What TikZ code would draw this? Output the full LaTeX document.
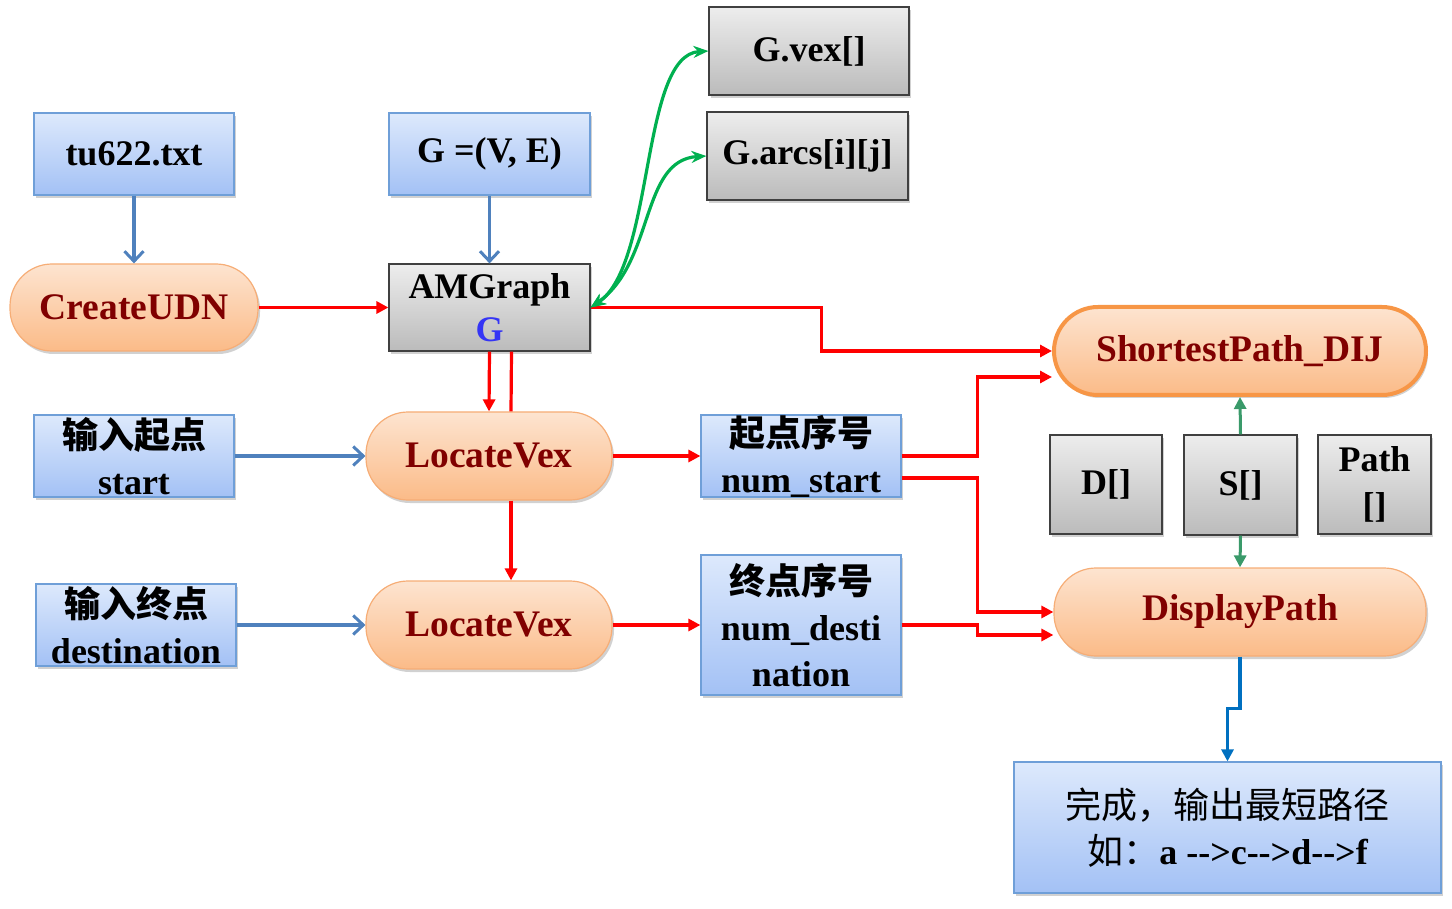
\documentclass[tikz,border=0pt]{standalone}
\usepackage{fontspec}
\setmainfont{Liberation Serif}
\newfontfamily\cjk{Noto Sans CJK SC}
\usetikzlibrary{arrows.meta,shadows,calc}
\definecolor{bluebd}{HTML}{6F9FD8}
\definecolor{bluetop}{HTML}{DDE9FC}
\definecolor{bluebot}{HTML}{A3C1F5}
\definecolor{graytop}{HTML}{EDEDED}
\definecolor{graybot}{HTML}{BBBBBB}
\definecolor{orbd}{HTML}{F6AD76}
\definecolor{ortop}{HTML}{FDE4D0}
\definecolor{orbot}{HTML}{FBBB88}
\definecolor{orthick}{HTML}{F79646}
\definecolor{darkred}{HTML}{800000}
\definecolor{gblue}{HTML}{3535F5}
\definecolor{lineblue}{HTML}{4F81BD}
\definecolor{linered}{HTML}{FF0000}
\definecolor{linegreen}{HTML}{00B050}
\definecolor{sgreen}{HTML}{3A9A6A}
\definecolor{finblue}{HTML}{0070C0}
\begin{document}
\begin{tikzpicture}[x=1pt,y=-1pt,
  every node/.style={font=\fontsize{36}{46}\selectfont\bfseries, align=center, inner sep=0pt},
  shad/.style={drop shadow={shadow xshift=2pt, shadow yshift=-3pt, opacity=0.3, fill=black!60}},
  bluebox/.style={shad, draw=bluebd, line width=1.2pt, top color=bluetop, bottom color=bluebot},
  graybox/.style={shad, draw=black!75, line width=1.2pt, top color=graytop, bottom color=graybot},
  orbox/.style={shad, draw=orbd, line width=1.2pt, top color=ortop, bottom color=orbot, rounded corners=42pt, text=darkred, font=\fontsize{37.5}{46}\selectfont\bfseries},
  blueline/.style={draw=lineblue, line width=3.2pt, -{Straight Barb[length=10pt,width=19pt,line width=3pt]}},
  redline/.style={draw=linered, line width=3.2pt, -{Triangle[length=12pt,width=12pt]}},
  greenline/.style={draw=linegreen, line width=3.2pt, {Stealth[length=15pt,width=12pt]}-{Stealth[length=15pt,width=12pt]}},
  sline/.style={draw=sgreen, line width=3pt, -{Triangle[length=12pt,width=12pt]}},
  finline/.style={draw=finblue, line width=3.4pt, -{Triangle[length=12pt,width=12pt]}}
]
\useasboundingbox (0,0) rectangle (1452,909);

% nodes
\node[bluebox, minimum width=200pt, minimum height=82pt] (tu) at (134,154) {tu622.txt};
\node[bluebox, minimum width=201pt, minimum height=82pt] (gve) at (489.5,154) {G =(V, E)};
\node[orbox, minimum width=248pt, minimum height=87pt] (cu) at (134,307.5) {CreateUDN};
\node[graybox, minimum width=201pt, minimum height=87pt] (am) at (489.5,307.5) {AMGraph\\[-3pt]\textcolor{gblue}{G}};
\node[graybox, minimum width=200pt, minimum height=88pt] (vex) at (809,51) {G.vex[]};
\node[graybox, minimum width=201pt, minimum height=88pt] (arcs) at (807.5,156) {G.arcs[i][j]};
\node[orbox, draw=orthick, line width=4pt, minimum width=372pt, minimum height=88pt, rounded corners=44pt] (sp) at (1240,351) {ShortestPath\_DIJ};
\node[bluebox, minimum width=200pt, minimum height=82pt] (in1) at (134,456) {{\cjk 输入起点}\\start};
\node[orbox, minimum width=246pt, minimum height=88pt] (lv1) at (489,456) {LocateVex};
\node[bluebox, minimum width=200pt, minimum height=82pt] (ns) at (801,456) {{\cjk 起点序号}\\num\_start};
\node[graybox, minimum width=112pt, minimum height=99pt] (dd) at (1106,484.5) {D[]};
\node[graybox, minimum width=113pt, minimum height=100pt] (ss) at (1240.5,485) {S[]};
\node[graybox, minimum width=113pt, minimum height=99pt] (pp) at (1374.5,484.5) {Path\\{[]}};
\node[orbox, minimum width=372pt, minimum height=88pt] (disp) at (1240,612) {DisplayPath};
\node[bluebox, minimum width=200pt, minimum height=82pt] (in2) at (136,625) {{\cjk 输入终点}\\destination};
\node[orbox, minimum width=246pt, minimum height=88pt] (lv2) at (489,625) {LocateVex};
\node[bluebox, minimum width=200pt, minimum height=140pt] (nd) at (801,625) {{\cjk 终点序号}\\num\_desti\\nation};
\node[bluebox, minimum width=427pt, minimum height=131pt] (fin) at (1227.5,827.5) {{\cjk\mdseries 完成，输出最短路径}\\{\cjk\mdseries 如：}a -{}->c-{}->d-{}->f};

% connectors
\draw[blueline] (tu.south) -- (cu.north);
\draw[blueline] (gve.south) -- (am.north);
\draw[redline] (cu.east) -- (am.west);
\draw[redline] (am.east) -- ++(231,0) |- (sp.west);
\draw[greenline] (am.east) .. controls (655,265) and (640,55) .. (vex.west);
\draw[greenline] (am.east) .. controls (655,262) and (640,160) .. (arcs.west);
\draw[redline] (am.south) -- (lv1.north);
\draw[draw=linered, line width=3.2pt] ($(am.south)+(22,0)$) -- ($(lv1.north)+(22,0)$);
\draw[redline] ($(lv1.south)+(22,0)$) -- ($(lv2.north)+(22,0)$);
\draw[blueline] (in1.east) -- (lv1.west);
\draw[blueline] (in2.east) -- (lv2.west);
\draw[redline] (lv1.east) -- (ns.west);
\draw[redline] (lv2.east) -- (nd.west);
\draw[redline] (ns.east) -- ++(76,0) |- ($(sp.west)+(0,26)$);
\draw[redline] ($(ns.east)+(0,22)$) -- ++(76,0) |- (disp.west);
\draw[redline] (nd.east) -- ++(76,0) |- ($(disp.west)+(0,23)$);
\draw[sline] (ss.north) -- (sp.south);
\draw[sline] (ss.south) -- (disp.north);
\draw[finline] (disp.south) -- ++(0,52) -| (fin.north);
\end{tikzpicture}
\end{document}
